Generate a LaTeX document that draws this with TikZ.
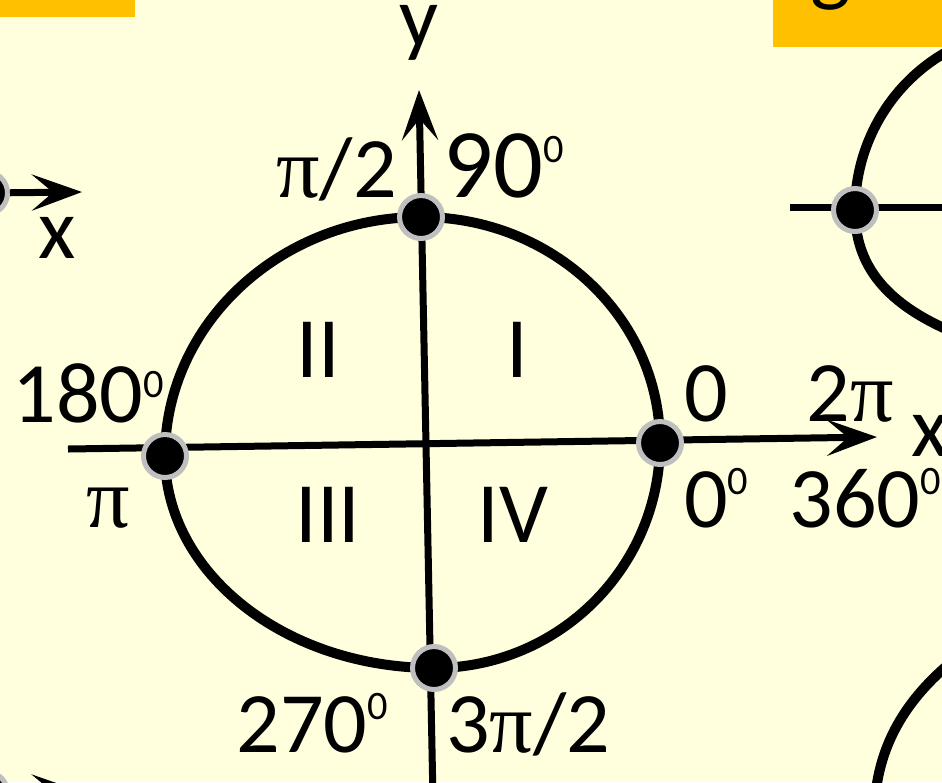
\documentclass[tikz,border=0pt]{standalone}
\usepackage{fontspec}
\setmainfont{Carlito}
\newfontfamily\pifont{Liberation Serif}
\usetikzlibrary{arrows.meta, calc, positioning}

\definecolor{paper}{RGB}{255,255,221}
\definecolor{tabfill}{RGB}{255,192,0}
\definecolor{ringgray}{RGB}{191,191,191}

\newcommand{\piglyph}{{\pifont π}}
\newcommand{\sdeg}[1][0.65cm]{\raisebox{#1}{\fontsize{23}{23}\selectfont 0}}

\tikzset{
  axis/.style={line width=0.14cm, -{Stealth[length=1cm, width=0.72cm, inset=0.42cm]}},
  bar/.style={line width=0.14cm},
  rim/.style={line width=0.2cm},
  dot/.style={circle, fill=black, draw=ringgray, line width=0.1cm, minimum size=0.86cm, inner sep=0pt},
  lbl/.style={font=\fontsize{49}{58}\selectfont, inner sep=0pt},
}

\begin{document}
\begin{tikzpicture}[x=0.02cm, y=-0.02cm]
        % Page
        \fill[paper] (0,0) rectangle (942,782);
        \useasboundingbox (0,0) rectangle (942,782);
        \clip (0,0) rectangle (942,782);

        % Title tabs (cut off at the top)
        \fill[tabfill] (0,0) rectangle (135,17);
        \fill[tabfill] (773,0) rectangle (960,47);
        \node[lbl, anchor=base west] (tabtext) at (781,-5) {tg α};

        % Main circle
        \coordinate (T) at (421,217);
        \coordinate (R) at (660,443);
        \coordinate (B) at (434,668);
        \coordinate (L) at (165,456);
        \draw[rim] (R) .. controls (660,567) and (559,668) .. (B)
                       .. controls (285,668) and (165,573) .. (L)
                       .. controls (165,324) and (280,217) .. (T)
                       .. controls (553,217) and (660,318) .. (R);

        % Axes
        \coordinate (xS) at (68,449);
        \coordinate (xE) at (877,437);
        \coordinate (yS) at (433,800);
        \coordinate (yE) at (419,90);
        \draw[axis] (xS) -- (xE);
        \draw[axis] (yS) -- (yE);

        % Points on the circle
        \node[dot] (pT) at (T) {};
        \node[dot] (pR) at (R) {};
        \node[dot] (pB) at (B) {};
        \node[dot] (pL) at (L) {};

        % Quadrants
        \node[lbl, anchor=base] (q1) at (517,377) {I};
        \node[lbl, anchor=base] (q2) at (318,377) {II};
        \node[lbl, anchor=base] (q3) at (328,542) {III};
        \node[lbl, anchor=base] (q4) at (513,542) {IV};

        % Axis names
        \node[lbl, anchor=base] (ylab) at (419,46) {y};
        \node[lbl, anchor=base west] (xlab) at (911,456) {x};

        % Angles
        \node[lbl, anchor=base east] (a90r) at (397,197) {\piglyph/2};
        \node[lbl, anchor=base west, font=\fontsize{56}{64}\selectfont] (a90d) at (443,197) {90\sdeg[0.7cm]};
        \node[lbl, anchor=base west] (a180d) at (12,422) {180\sdeg[0.5cm]};
        \node[lbl, anchor=base] (a180r) at (108,527) {\piglyph};
        \node[lbl, anchor=base west] (a0r) at (684,421) {0};
        \node[lbl, anchor=base west] (a360r) at (806,421) {2\piglyph};
        \node[lbl, anchor=base west] (a0d) at (684,527) {0\sdeg};
        \node[lbl, anchor=base west] (a360d) at (789,527) {360\sdeg};
        \node[lbl, anchor=base west] (a270d) at (236,752) {270\sdeg};
        \node[lbl, anchor=base west] (a270r) at (446,752) {3\piglyph/2};

        % Neighbouring sketch on the left (cut off)
        \coordinate (lx1E) at (82,192);
        \coordinate (lx2E) at (82,792);
        \node[dot] (lp1) at (-14,193) {};
        \node[dot] (lp2) at (-14,793) {};
        \draw[axis] (lp1) -- (lx1E);
        \draw[axis] (lp2) -- (lx2E);
        \node[lbl, anchor=base] (lxlab) at (57,258) {x};

        % Neighbouring sketches on the right (cut off)
        \coordinate (rxS) at (790,207);
        \coordinate (rxE) at (960,207);
        \draw[bar] (rxS) -- (rxE);
        \draw[rim] (960,45) .. controls (895,75) and (855,140) .. (855,210)
                   .. controls (855,265) and (885,305) .. (960,335);
        \node[dot] (rp) at (855,210) {};
        \draw[rim] (960,655) .. controls (915,690) and (880,735) .. (875,800);
    \end{tikzpicture}
\end{document}
